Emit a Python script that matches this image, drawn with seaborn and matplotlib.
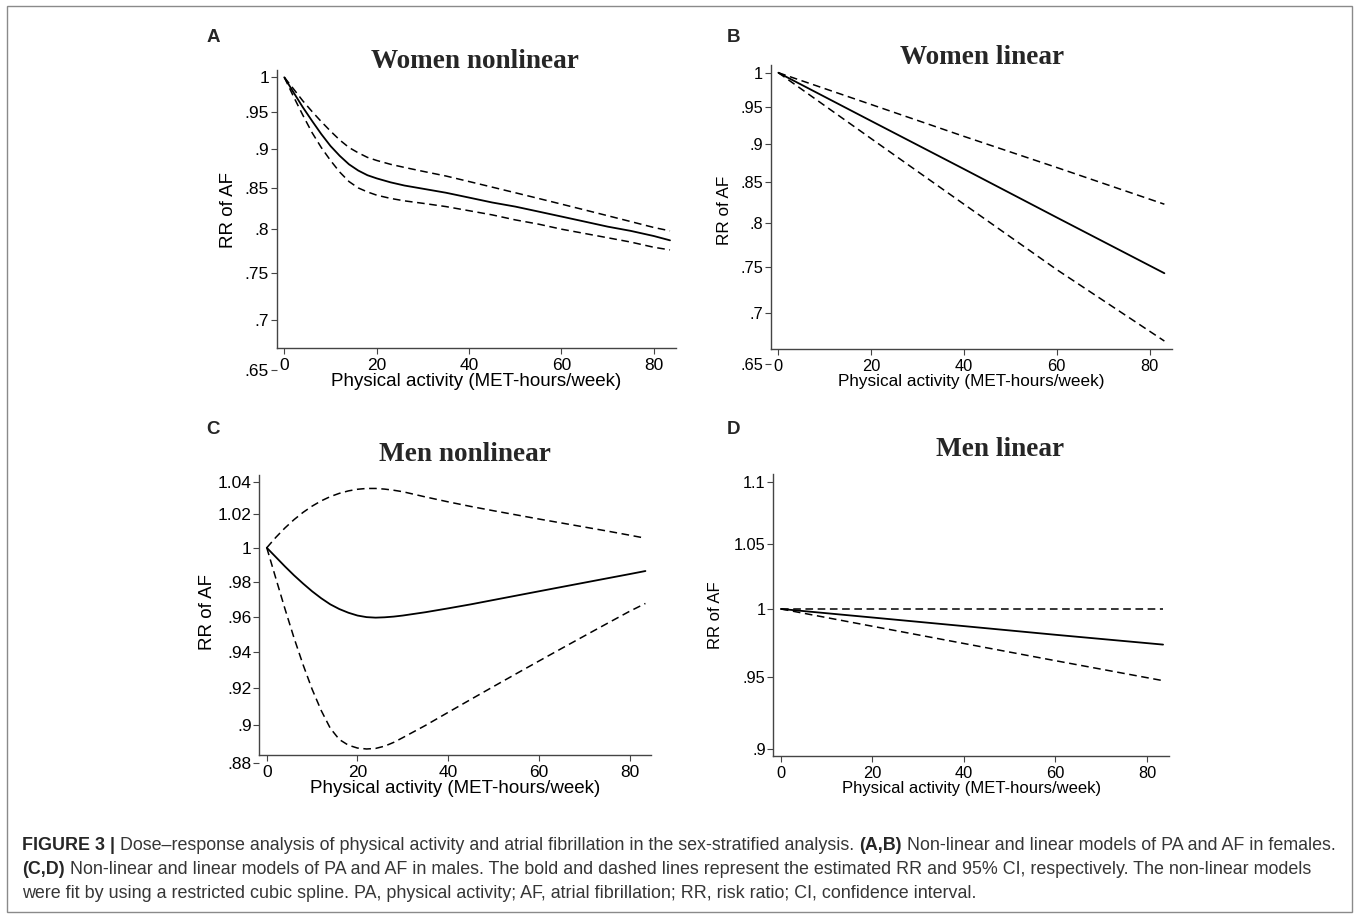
import matplotlib
matplotlib.use("Agg")
import matplotlib.pyplot as plt
import seaborn as sns
from matplotlib.ticker import FixedLocator, NullLocator
from matplotlib.patches import Rectangle

# ---- data (RR of AF vs MET-hours/week) ----
# A: women nonlinear
women_nl_x = [0, 2, 4, 6, 8, 10, 12, 14, 16, 18, 20, 23, 26, 30, 35, 40, 45, 50, 55, 60, 65, 70, 75, 80, 83.5]
women_nl_rr = [1.0, 0.978, 0.957, 0.938, 0.920, 0.904, 0.891, 0.880, 0.872, 0.866, 0.862, 0.857, 0.853,
               0.849, 0.844, 0.838, 0.832, 0.827, 0.821, 0.815, 0.809, 0.803, 0.798, 0.792, 0.787]
women_nl_hi = [1.0, 0.983, 0.966, 0.951, 0.937, 0.924, 0.912, 0.902, 0.895, 0.889, 0.885, 0.880, 0.876,
               0.871, 0.865, 0.858, 0.851, 0.844, 0.837, 0.830, 0.823, 0.816, 0.809, 0.802, 0.798]
women_nl_lo = [1.0, 0.972, 0.946, 0.922, 0.902, 0.885, 0.870, 0.858, 0.850, 0.845, 0.841, 0.837, 0.834,
               0.831, 0.827, 0.822, 0.817, 0.811, 0.806, 0.800, 0.795, 0.790, 0.785, 0.779, 0.776]

# B: women linear
women_lin_x = [0, 20, 40, 60, 83.2]
women_lin_rr = [1.0, 0.931, 0.867, 0.807, 0.743]
women_lin_hi = [1.0, 0.954, 0.910, 0.869, 0.823]
women_lin_lo = [1.0, 0.907, 0.823, 0.747, 0.672]

# C: men nonlinear
men_nl_x = [0, 2, 4, 6, 8, 10, 12, 14, 16, 18, 20, 22, 24, 26, 28, 30, 35, 40, 45, 50, 55, 60, 65, 70, 75, 80, 83.5]
men_nl_rr = [1.0, 0.9945, 0.989, 0.9838, 0.979, 0.9745, 0.9705, 0.967, 0.9643, 0.9622, 0.9606, 0.9597,
             0.9594, 0.9596, 0.960, 0.9606, 0.9625, 0.9647, 0.967, 0.9695, 0.972, 0.9745, 0.977, 0.9795,
             0.982, 0.9845, 0.9863]
men_nl_hi = [1.0, 1.0062, 1.0118, 1.0168, 1.0212, 1.025, 1.0282, 1.0308, 1.0328, 1.0343, 1.0353, 1.0358,
             1.0358, 1.0354, 1.0347, 1.0338, 1.0306, 1.0276, 1.0248, 1.0222, 1.0197, 1.0172, 1.0148, 1.0124,
             1.0100, 1.0075, 1.0057]
men_nl_lo = [1.0, 0.982, 0.9645, 0.948, 0.933, 0.9195, 0.908, 0.8985, 0.8925, 0.8895, 0.888, 0.8875,
             0.8878, 0.889, 0.891, 0.8935, 0.900, 0.907, 0.914, 0.921, 0.928, 0.935, 0.942, 0.949,
             0.956, 0.963, 0.9675]

# D: men linear
men_lin_x = [0, 20, 40, 60, 83.5]
men_lin_rr = [1.0, 0.9936, 0.9872, 0.9808, 0.9736]
men_lin_hi = [1.0, 1.0, 1.0, 1.0, 1.0]
men_lin_lo = [1.0, 0.9871, 0.9744, 0.9619, 0.9476]

x_ticks = [0, 20, 40, 60, 80]
women_yticks = [1, 0.95, 0.9, 0.85, 0.8, 0.75, 0.7, 0.65]
women_ylabels = ["1", ".95", ".9", ".85", ".8", ".75", ".7", ".65"]
men_nl_yticks = [1.04, 1.02, 1, 0.98, 0.96, 0.94, 0.92, 0.9, 0.88]
men_nl_ylabels = ["1.04", "1.02", "1", ".98", ".96", ".94", ".92", ".9", ".88"]
men_lin_yticks = [1.1, 1.05, 1, 0.95, 0.9]
men_lin_ylabels = ["1.1", "1.05", "1", ".95", ".9"]

sns.set_theme(style="white")
plt.rcParams["font.family"] = ["Liberation Sans", "DejaVu Sans"]

W, H = 1357, 914
fig = plt.figure(figsize=(W / 100, H / 100), dpi=100)


def px_axes(left, top, right, bottom):
    return fig.add_axes([left / W, 1 - bottom / H, (right - left) / W, (bottom - top) / H])


def draw_panel(box, x, rr, lo, hi, ylim, spine_y, yticks, ylabels, title, title_xy,
               letter, letter_xy, fs, tick_fs, ylab_xy):
    ax = px_axes(*box)
    sns.lineplot(x=x, y=hi, ax=ax, color="black", lw=1.1, linestyle=(0, (5, 3)))
    sns.lineplot(x=x, y=lo, ax=ax, color="black", lw=1.1, linestyle=(0, (5, 3)))
    sns.lineplot(x=x, y=rr, ax=ax, color="black", lw=1.3)
    ax.set_yscale("log")
    ax.set_ylim(*ylim)
    ax.set_xlim(-1.65, 84.8)
    ax.yaxis.set_major_locator(FixedLocator(yticks))
    ax.yaxis.set_minor_locator(NullLocator())
    ax.set_yticklabels(ylabels)
    ax.set_xticks(x_ticks)
    ax.set_xticklabels([str(t) for t in x_ticks])
    for s in ["top", "right"]:
        ax.spines[s].set_visible(False)
    for s in ["bottom", "left"]:
        ax.spines[s].set_color("#444444")
        ax.spines[s].set_linewidth(1.0)
    ax.spines["bottom"].set_position(("data", spine_y))
    ax.spines["left"].set_bounds(spine_y, ylim[1])
    ax.tick_params(axis="both", direction="out", length=4, width=0.8, color="#444444",
                   labelsize=tick_fs, labelcolor="black", left=True, bottom=True)
    ax.tick_params(axis="y", pad=1.5)
    ax.tick_params(axis="x", pad=3)
    ax.set_xlabel("Physical activity (MET-hours/week)", fontsize=fs, labelpad=0, color="black")
    ax.set_ylabel("RR of AF", fontsize=fs, color="black")
    left, top, right, bottom = box
    # ylabel anchor is its right edge
    ax.yaxis.set_label_coords((ylab_xy[0] + fs * 0.7 - left) / (right - left),
                              (bottom - ylab_xy[1]) / (bottom - top))
    ax.patch.set_alpha(0)
    fig.text(title_xy[0] / W, 1 - title_xy[1] / H, title, ha="center", va="center",
             fontsize=19.6, fontweight="bold", family=["Liberation Serif", "DejaVu Serif"])
    fig.text(letter_xy[0] / W, 1 - letter_xy[1] / H, letter, ha="center", va="center",
             fontsize=13.5, fontweight="bold")
    return ax


draw_panel((276.7, 70, 676, 370.5), women_nl_x, women_nl_rr, women_nl_lo, women_nl_hi,
           (0.65, 1.0108), 0.672, women_yticks, women_ylabels, "Women nonlinear", (475, 61),
           "A", (213, 37), 13.5, 12.5, (228, 210))
draw_panel((770.7, 65, 1171.8, 363.5), women_lin_x, women_lin_rr, women_lin_lo, women_lin_hi,
           (0.65, 1.0115), 0.664, women_yticks, women_ylabels, "Women linear", (982, 57),
           "B", (733, 37), 12.3, 11.8, (723, 210))
draw_panel((259.3, 475, 651.3, 763.3), men_nl_x, men_nl_rr, men_nl_lo, men_nl_hi,
           (0.88, 1.0441), 0.8843, men_nl_yticks, men_nl_ylabels, "Men nonlinear", (465, 454),
           "C", (213, 430), 13.5, 12.5, (207, 612))
draw_panel((773.3, 474, 1169, 756), men_lin_x, men_lin_rr, men_lin_lo, men_lin_hi,
           (0.8955, 1.1066), 0.8955, men_lin_yticks, men_lin_ylabels, "Men linear", (1000, 450),
           "D", (733, 430), 12.0, 11.8, (715, 615))

# outer frame
fig.add_artist(Rectangle((7 / W, 1 - 912 / H), (1352 - 7) / W, (912 - 6) / H,
                         transform=fig.transFigure, fill=False, ec="#8a8a8a", lw=1))

# caption with mixed weights
cap_fs = 12.85
renderer = fig.canvas.get_renderer()


def text_w(s, weight="normal"):
    t = fig.text(0, 0, s, fontsize=cap_fs, fontweight=weight)
    w = t.get_window_extent(renderer=renderer).width
    t.remove()
    return w


space_w = text_w("x x") - text_w("xx")


def caption_line(pieces, y_px, x_px=22):
    x = x_px
    for i, (s, weight) in enumerate(pieces):
        if i > 0:
            x += space_w
        t = fig.text(x / W, 1 - y_px / H, s, fontsize=cap_fs, fontweight=weight,
                     ha="left", va="center", color="#262626" if weight == "bold" else "#363636")
        x += t.get_window_extent(renderer=renderer).width


caption_line([("FIGURE 3 |", "bold"),
              ("Dose–response analysis of physical activity and atrial fibrillation in the sex-stratified analysis.", "normal"),
              ("(A,B)", "bold"),
              ("Non-linear and linear models of PA and AF in females.", "normal")], 845)
caption_line([("(C,D)", "bold"),
              ("Non-linear and linear models of PA and AF in males. The bold and dashed lines represent the estimated RR and 95% CI, respectively. The non-linear models", "normal")], 869)
caption_line([("were fit by using a restricted cubic spline. PA, physical activity; AF, atrial fibrillation; RR, risk ratio; CI, confidence interval.", "normal")], 893)

fig.savefig("out.png", dpi=100)
